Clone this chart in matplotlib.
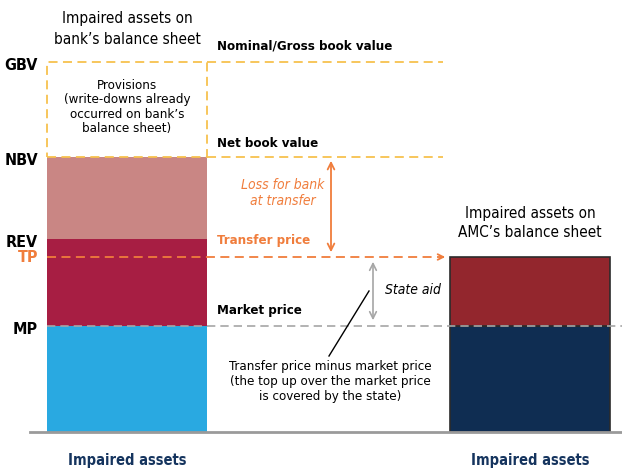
import matplotlib
matplotlib.use("Agg")
import matplotlib.pyplot as plt
from matplotlib.patches import Rectangle

# ---- data (arbitrary value units) ----
levels = ["GBV", "NBV", "REV", "TP", "MP"]
level_values = [370, 275, 193, 175, 106]
GBV, NBV, REV, TP, MP = level_values

bar_names = ["Impaired assets", "Impaired assets"]
bar_titles = ["Impaired assets on\nbank\u2019s balance sheet", "Impaired assets on\nAMC\u2019s balance sheet"]
bank_segments = [(0, MP), (MP, REV), (REV, NBV)]
amc_segments = [(0, MP), (MP, TP)]

plt.rcParams["font.family"] = ["DejaVu Sans"]
plt.rcParams["font.stretch"] = "condensed"

bank_colors = ["#29A9E1", "#A71E43", "#C98684"]
amc_colors = ["#0F2D52", "#93262D"]
yellow = "#F7C14E"
orange = "#F07D3C"
gray = "#A6A6A6"
navy = "#15345E"

fig = plt.figure(figsize=(6.22, 4.69), dpi=100)
ax = fig.add_axes([0, 0, 1, 1])
ax.set_xlim(0, 622)
ax.set_ylim(-37, 432)
ax.axis("off")

xb, xa, w = 127, 530, 160
x0 = xb - w / 2

for (b, t), c in zip(bank_segments, bank_colors):
    ax.bar(xb, t - b, bottom=b, width=w, color=c, linewidth=0)
for (b, t), c in zip(amc_segments, amc_colors):
    ax.bar(xa, t - b, bottom=b, width=w, color=c, edgecolor="#2b2b2b", linewidth=1.2)

ax.add_patch(Rectangle((x0, NBV), w, GBV - NBV, fill=False,
                       edgecolor=yellow, linestyle=(0, (5, 3)), linewidth=1.3))
ax.plot([xb + w / 2, 443], [GBV, GBV], color=yellow, ls=(0, (5, 3)), lw=1.3)
ax.plot([xb + w / 2, 443], [NBV, NBV], color=yellow, ls=(0, (5, 3)), lw=1.3)

ax.plot([x0, 444], [TP, TP], color=orange, ls=(0, (5, 3)), lw=1.3)
ax.annotate("", xy=(448, TP), xytext=(438, TP),
            arrowprops=dict(arrowstyle="->", color=orange, lw=1.3))
ax.plot([x0, 622], [MP, MP], color=gray, ls=(0, (5, 3)), lw=1.2)

ax.plot([30, 622], [0, 0], color="#9a9a9a", lw=2)

ax.annotate("", xy=(331, NBV - 1), xytext=(331, TP + 2),
            arrowprops=dict(arrowstyle="<->", color=orange, lw=1.3, mutation_scale=12))
ax.annotate("", xy=(373, TP - 2), xytext=(373, MP + 3),
            arrowprops=dict(arrowstyle="<->", color=gray, lw=1.2, mutation_scale=12))
ax.plot([369, 329], [141, 76], color="black", lw=1.0)

for name, v in zip(levels, level_values):
    ax.text(38, v - 3 if name != "TP" else v, name, ha="right", va="center", fontsize=11.5,
            fontweight="bold", color=orange if name == "TP" else "black")

ax.text(xb, 403, bar_titles[0], ha="center", va="center", fontsize=11, linespacing=1.45)
ax.text(xa, 209, bar_titles[1], ha="center", va="center", fontsize=11, linespacing=1.4)

ax.text(xb, 325, "Provisions\n(write-downs already\noccurred on bank\u2019s\nbalance sheet)",
        ha="center", va="center", fontsize=9.5, linespacing=1.15)

ax.text(217, 386, "Nominal/Gross book value", ha="left", va="center", fontsize=9.5, fontweight="bold")
ax.text(217, 289, "Net book value", ha="left", va="center", fontsize=9.5, fontweight="bold")
ax.text(217, 192, "Transfer price", ha="left", va="center", fontsize=9.5, fontweight="bold", color=orange)
ax.text(217, 122, "Market price", ha="left", va="center", fontsize=9.5, fontweight="bold")

ax.text(283, 239, "Loss for bank\nat transfer", ha="center", va="center", fontsize=10,
        style="italic", color=orange, linespacing=1.2)
ax.text(385, 142, "State aid", ha="left", va="center", fontsize=10, style="italic")

ax.text(330, 51, "Transfer price minus market price\n(the top up over the market price\nis covered by the state)",
        ha="center", va="center", fontsize=9.5, linespacing=1.2)

ax.text(xb, -28, bar_names[0], ha="center", va="center", fontsize=10.5, fontweight="bold", color=navy)
ax.text(xa, -28, bar_names[1], ha="center", va="center", fontsize=10.5, fontweight="bold", color=navy)

fig.savefig("out.png", dpi=100)
